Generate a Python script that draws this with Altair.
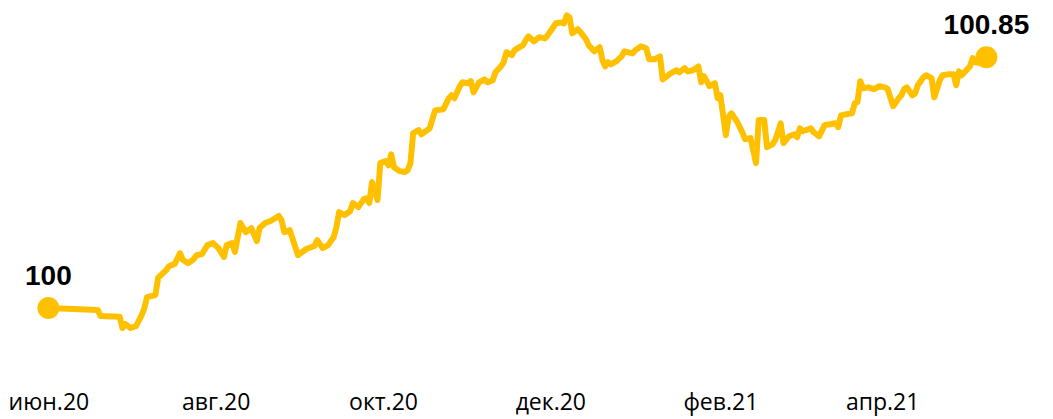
import altair as alt
import pandas as pd

start_date = "2020-06-01"

day_offsets = [
    0, 18, 19, 26, 27, 28, 30, 32, 34, 35, 36, 39, 40, 43, 44, 46, 48, 49, 51, 53,
    54, 56, 58, 60, 62, 64, 65, 67, 68, 70, 72, 74, 76, 77, 79, 81, 84, 85, 86, 88,
    91,
    92, 94, 97, 98, 100, 102, 104, 105, 106, 108, 110, 111, 113, 115, 116, 117, 118, 120, 121, 123,
    124, 125, 126, 128, 130, 131, 132, 133, 135, 136, 139, 141, 144, 146, 147, 148, 150, 151, 153, 154,
    155, 157, 159, 160, 162, 163, 165, 166, 167, 169, 170, 173, 174, 175, 177, 179, 181, 182, 184, 185,
    187, 188, 189, 190, 191, 193, 194, 196, 197, 199, 201, 202, 203, 204, 205, 207, 209, 210, 213, 214,
    216, 217, 218,
    219, 221, 223, 224, 227, 229, 230, 232, 233, 235, 237, 238, 239, 241, 243, 244, 245, 247, 248, 249,
    251, 253, 254, 256, 258, 259, 261, 262, 264, 265, 267, 268, 270, 272, 273, 274, 275, 278, 279, 281,
    283, 285, 287, 288, 289, 291, 293, 294, 295, 296, 297, 299, 301, 303, 305, 306, 308, 310, 311, 312,
    313, 315, 316, 317, 319, 320, 322, 323, 325, 326, 328, 330, 331, 332, 333, 334, 336, 337, 338, 340,
    342,
]

index_values = [
    100.000, 99.993, 99.973, 99.970, 99.932, 99.946, 99.932, 99.939, 99.976, 100.000,
    100.037, 100.044, 100.102, 100.129, 100.142, 100.149, 100.186, 100.163, 100.152, 100.166,
    100.179, 100.183, 100.213, 100.220, 100.203, 100.173, 100.213, 100.220, 100.190, 100.288,
    100.257, 100.271, 100.227, 100.271, 100.288, 100.295, 100.312, 100.298, 100.257, 100.264,
    100.179,
    100.186, 100.200, 100.210, 100.230, 100.203, 100.213, 100.240, 100.274, 100.325, 100.315,
    100.328, 100.356, 100.342, 100.369, 100.372, 100.356, 100.427, 100.366, 100.491, 100.498,
    100.484, 100.521, 100.477, 100.464, 100.461, 100.467, 100.491, 100.593, 100.603, 100.589,
    100.609, 100.670, 100.674, 100.711, 100.721, 100.711, 100.752, 100.765, 100.762, 100.769,
    100.731, 100.765, 100.775, 100.765, 100.772, 100.799, 100.819, 100.833, 100.867, 100.857,
    100.874, 100.891, 100.907, 100.921, 100.904, 100.918, 100.914, 100.924, 100.951, 100.965,
    100.968, 100.965, 100.992, 100.985, 100.931, 100.945, 100.935, 100.911, 100.891, 100.870,
    100.884, 100.840, 100.819, 100.833, 100.826, 100.836, 100.853, 100.870, 100.863, 100.874,
    100.887, 100.884, 100.880,
    100.843, 100.843, 100.853, 100.775, 100.796, 100.806, 100.799, 100.813, 100.802, 100.806,
    100.819, 100.765, 100.786, 100.752, 100.762, 100.711, 100.721, 100.586, 100.647, 100.660,
    100.633, 100.596, 100.572, 100.576, 100.491, 100.637, 100.637, 100.545, 100.555, 100.569,
    100.626, 100.559, 100.582, 100.589, 100.579, 100.609, 100.599, 100.609, 100.596, 100.582,
    100.620, 100.623, 100.626, 100.613, 100.653, 100.657, 100.660, 100.694, 100.698, 100.769,
    100.745, 100.748, 100.742, 100.752, 100.748, 100.742, 100.684, 100.711, 100.721, 100.742,
    100.748, 100.721, 100.728, 100.755, 100.782, 100.789, 100.779, 100.714, 100.772, 100.789,
    100.792, 100.792, 100.755, 100.802, 100.789, 100.799, 100.819, 100.847, 100.833, 100.830,
    100.850,
]

tick_months = [(2020, 6), (2020, 8), (2020, 10), (2020, 12), (2021, 2), (2021, 4)]
tick_labels = ["июн.20", "авг.20", "окт.20", "дек.20", "фев.21", "апр.21"]
end_labels = ["100", "100.85"]

assert len(day_offsets) == len(index_values)

dates = pd.Timestamp(start_date) + pd.to_timedelta(day_offsets, unit="D")
df = pd.DataFrame({"date": dates, "value": index_values})
ends = df.iloc[[0, -1]].copy()
ends["label"] = end_labels

label_expr = ""
for (yr, mo), lab in zip(tick_months, tick_labels):
    label_expr += f"timeFormat(datum.value, '%Y-%m') == '{yr}-{mo:02d}' ? '{lab}' : "
label_expr += "''"

x_enc = alt.X(
    "date:T",
    scale=alt.Scale(domain=[alt.DateTime(year=2020, month=5, date=18),
                            alt.DateTime(year=2021, month=5, date=30)]),
    axis=alt.Axis(
        values=[alt.DateTime(year=yr, month=mo, date=1) for yr, mo in tick_months],
        labelExpr=label_expr,
        title=None, domain=False, ticks=False, grid=False,
        labelFont="Open Sans", labelFontSize=23, labelColor="#000000",
        labelPadding=24, labelFlush=False, labelOverlap=False, labelBound=False,
        labelAngle=0,
    ),
)
y_enc = alt.Y("value:Q", scale=alt.Scale(domain=[99.8, 101.0], zero=False, nice=False), axis=None)

line = alt.Chart(df).mark_line(
    color="#FFC000", strokeWidth=6, strokeJoin="round", strokeCap="round"
).encode(x=x_enc, y=y_enc)

dots = alt.Chart(ends).mark_circle(size=480, color="#FFC000", opacity=1).encode(x=x_enc, y=y_enc)

texts = alt.Chart(ends).mark_text(
    dy=-23, baseline="alphabetic", font="Liberation Sans", fontSize=28, fontWeight="bold",
    color="#000000"
).encode(x=x_enc, y=y_enc, text="label:N")

chart = alt.layer(line, dots, texts).properties(
    width=1034, height=354,
    padding={"left": 2, "top": 5, "right": 0, "bottom": 50},
    autosize=alt.AutoSizeParams(type="none"),
).configure_view(stroke=None)

chart.save("out.html", embed_options={"renderer": "svg", "actions": False})
